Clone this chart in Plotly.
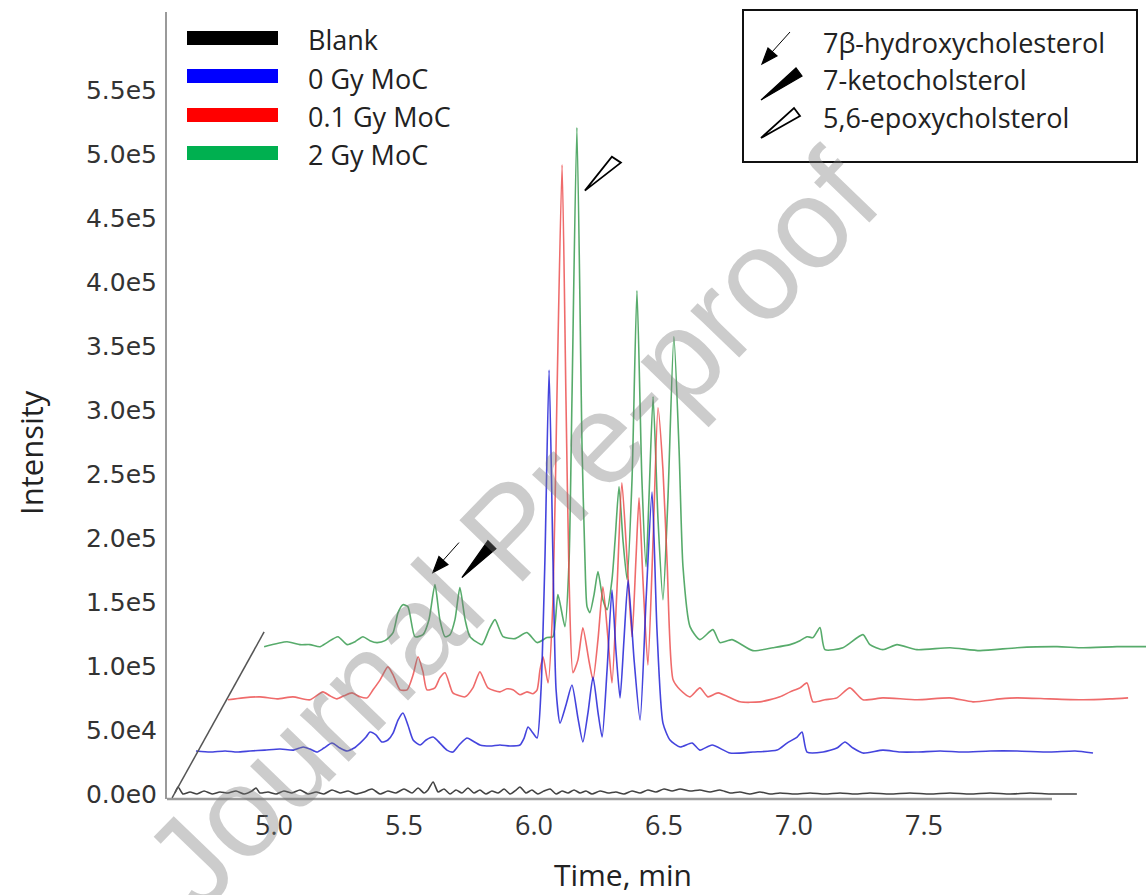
import plotly.graph_objects as go

# ---------------- data ----------------
series_names = ["Blank", "0 Gy MoC", "0.1 Gy MoC", "2 Gy MoC"]
marker_names = ["7β-hydroxycholesterol", "7-ketocholsterol", "5,6-epoxycholsterol"]

y_tick_vals = [0, 50000, 100000, 150000, 200000, 250000, 300000, 350000, 400000, 450000, 500000, 550000]
y_tick_text = ["0.0e0", "5.0e4", "1.0e5", "1.5e5", "2.0e5", "2.5e5", "3.0e5", "3.5e5", "4.0e5", "4.5e5", "5.0e5", "5.5e5"]
x_tick_vals = [5.0, 5.5, 6.0, 6.5, 7.0, 7.5]
x_tick_text = ["5.0", "5.5", "6.0", "6.5", "7.0", "7.5"]

# waterfall offsets of each chromatogram (time shift in min, intensity shift)
x_shift = [0.0, 0.075, 0.20, 0.34]
y_shift = [0, 32000, 72000, 112000]

blank_time = [4.619, 4.631, 4.650, 4.677, 4.704, 4.731, 4.762, 4.792, 4.823, 4.854,
              4.885, 4.915, 4.931, 4.946, 4.977, 5.008, 5.038, 5.069, 5.100, 5.131,
              5.162, 5.192, 5.223, 5.254, 5.285, 5.315, 5.346, 5.377, 5.408, 5.438,
              5.469, 5.500, 5.531, 5.554, 5.577, 5.592, 5.612, 5.631, 5.654, 5.677,
              5.700, 5.723, 5.746, 5.769, 5.792, 5.815, 5.838, 5.862, 5.885, 5.908,
              5.931, 5.946, 5.969, 5.992, 6.015, 6.038, 6.062, 6.085, 6.108, 6.131,
              6.154, 6.177, 6.200, 6.223, 6.254, 6.285, 6.315, 6.346, 6.377, 6.408,
              6.438, 6.469, 6.500, 6.531, 6.562, 6.600, 6.638, 6.677, 6.715, 6.754,
              6.792, 6.831, 6.869, 6.908, 6.946, 7.004, 7.062, 7.119, 7.177, 7.235,
              7.292, 7.369, 7.446, 7.523, 7.600, 7.677, 7.754, 7.831, 7.908, 7.985,
              8.088]
blank_int = [800, 5500, 0, 1600, 0, 2300, 0, 1600, 800, 2300,
             0, 2300, 4700, 800, 1600, 0, 2300, 800, 3100, 0,
             1600, 0, 3100, 800, 2300, 0, 1600, 3900, 0, 2300,
             800, 3900, 800, 4700, 800, 3100, 9400, 1600, 3900, 0,
             3100, 800, 4700, 800, 3100, 0, 2300, 800, 3900, 0,
             3100, 5500, 800, 3100, 0, 2300, 3900, 0, 2300, 800,
             3100, 800, 2300, 0, 2300, 800, 1600, 0, 2300, 800,
             3100, 1600, 3900, 2300, 3900, 2300, 3100, 1600, 3100, 800,
             1600, 0, 1600, 0, 800, 0, 800, 0, 800, 0,
             800, 0, 800, 0, 800, 0, 800, 0, 800, 0,
             0]

moc0_time = [4.625, 4.679, 4.737, 4.783, 4.833, 4.890, 4.948, 5.000, 5.037, 5.063,
             5.090, 5.117, 5.148, 5.179, 5.206, 5.233, 5.256, 5.279, 5.294, 5.317,
             5.340, 5.363, 5.383, 5.402, 5.421, 5.440, 5.460, 5.487, 5.510, 5.537,
             5.563, 5.590, 5.613, 5.637, 5.667, 5.690, 5.717, 5.756, 5.794, 5.833,
             5.871, 5.887, 5.902, 5.921, 5.937, 5.952, 5.967, 5.983, 5.998, 6.010,
             6.025, 6.048, 6.071, 6.094, 6.113, 6.133, 6.152, 6.171, 6.187, 6.206,
             6.225, 6.240, 6.256, 6.271, 6.287, 6.310, 6.333, 6.356, 6.379, 6.398,
             6.421, 6.448, 6.487, 6.533, 6.563, 6.610, 6.679, 6.767, 6.860, 6.898,
             6.937, 6.956, 6.975, 7.037, 7.090, 7.121, 7.152, 7.190, 7.267, 7.333,
             7.398, 7.487, 7.575, 7.679, 7.783, 7.910, 8.006, 8.075]
moc0_int = [1600, 800, 1600, 800, 1600, 2300, 3100, 2300, 4700, 3100,
            800, 3900, 7800, 3900, 1600, 3900, 7800, 12500, 16400, 14100,
            8600, 10200, 15600, 25800, 31300, 21900, 10200, 6300, 10200, 12500,
            7800, 2300, 800, 6300, 11700, 9400, 6300, 5500, 6300, 5500,
            6300, 11700, 20300, 15600, 11700, 49200, 150800, 299200, 150800, 49200,
            23400, 37500, 53100, 27300, 8600, 32000, 59400, 32000, 12500, 64800,
            127300, 80500, 43000, 88300, 135200, 72700, 25800, 119500, 203900, 96100,
            23400, 10200, 4700, 7800, 2300, 6300, 0, 800, 2300, 7800,
            12500, 16400, 800, 800, 3900, 8600, 3900, 0, 2300, 800,
            800, 1600, 800, 1600, 1600, 800, 1600, 0]

moc01_time = [4.623, 4.681, 4.746, 4.812, 4.873, 4.938, 4.988, 5.015, 5.042, 5.069,
              5.100, 5.131, 5.158, 5.181, 5.208, 5.238, 5.258, 5.285, 5.312, 5.335,
              5.354, 5.373, 5.388, 5.419, 5.438, 5.458, 5.477, 5.488, 5.535, 5.565,
              5.592, 5.623, 5.669, 5.696, 5.719, 5.746, 5.773, 5.796, 5.812, 5.823,
              5.835, 5.854, 5.873, 5.888, 5.908, 5.923, 5.935, 5.950, 5.969, 5.988,
              6.012, 6.027, 6.046, 6.065, 6.085, 6.100, 6.119, 6.138, 6.158, 6.177,
              6.192, 6.204, 6.219, 6.238, 6.258, 6.277, 6.296, 6.312, 6.335, 6.362,
              6.400, 6.438, 6.469, 6.508, 6.592, 6.669, 6.746, 6.785, 6.823, 6.850,
              6.873, 6.919, 6.965, 7.015, 7.065, 7.142, 7.273, 7.400, 7.488, 7.592,
              7.658, 7.785, 7.912, 8.015, 8.085]
moc01_int = [1600, 3100, 3900, 2300, 3900, 1600, 7800, 4700, 2300, 4700,
             7000, 3900, 3100, 9400, 17200, 27300, 21100, 9400, 9400, 21100,
             35200, 23400, 9400, 10900, 18800, 22700, 12500, 7000, 3900, 10900,
             23400, 10900, 7800, 10200, 9400, 5500, 7800, 6300, 9400, 25000,
             35200, 14800, 79700, 235900, 419500, 235900, 95300, 22700, 32800, 57800,
             31300, 17200, 48400, 89800, 48400, 14800, 87500, 171100, 110900, 50800,
             110900, 159400, 95300, 28900, 126600, 229700, 181300, 108600, 17200, 9400,
             3900, 10900, 3900, 7000, 0, 0, 3900, 7800, 10900, 14800,
             0, 1600, 3100, 10900, 1600, 3100, 1600, 3100, 0, 2300,
             3100, 2300, 1600, 2300, 3100]

moc2_time = [4.622, 4.710, 4.760, 4.798, 4.837, 4.864, 4.906, 4.941, 4.972, 5.002,
             5.029, 5.056, 5.087, 5.118, 5.137, 5.156, 5.175, 5.202, 5.233, 5.256,
             5.279, 5.298, 5.318, 5.337, 5.356, 5.375, 5.395, 5.414, 5.460, 5.487,
             5.510, 5.541, 5.587, 5.633, 5.672, 5.710, 5.733, 5.752, 5.779, 5.795,
             5.806, 5.825, 5.845, 5.856, 5.864, 5.875, 5.891, 5.906, 5.925, 5.941,
             5.960, 5.972, 5.987, 6.002, 6.018, 6.037, 6.056, 6.075, 6.091, 6.102,
             6.118, 6.137, 6.156, 6.175, 6.198, 6.218, 6.233, 6.260, 6.298, 6.348,
             6.375, 6.422, 6.502, 6.579, 6.645, 6.683, 6.710, 6.733, 6.760, 6.779,
             6.848, 6.925, 6.952, 7.002, 7.056, 7.133, 7.260, 7.375, 7.518, 7.672,
             7.772, 7.902, 8.014, 8.087]
moc2_int = [3100, 7000, 4700, 4700, 3100, 6300, 10900, 4700, 7000, 10900,
            7800, 6300, 7800, 14100, 29700, 35900, 34400, 10900, 12500, 24200,
            51600, 24200, 10900, 12500, 24200, 49200, 24200, 10900, 4700, 16400,
            24200, 10900, 9400, 14100, 6300, 10200, 10900, 43800, 18800, 71100,
            196100, 408600, 157000, 71100, 34400, 29700, 43800, 61700, 39800, 32000,
            55500, 86700, 128100, 86700, 55500, 133600, 281300, 133600, 65600, 118000,
            198400, 102300, 39800, 118000, 245300, 157000, 65600, 18800, 8600, 16400,
            6300, 8600, 0, 2300, 4700, 7800, 10900, 10200, 18000, 800,
            2300, 12500, 4700, 800, 4700, 800, 2300, 0, 2300, 3100,
            2300, 3100, 3100, 3100]

# ---------------- styling / layout ----------------
W, H = 1146, 895
ML, MR, MT, MB = 167, 0, 12, 96
PW, PH = W - ML - MR, H - MT - MB


def fx(p):
    return (p - ML) / PW


def fy(p):
    return (H - MB - p) / PH


line_colors = ["rgba(45,45,45,0.9)", "rgba(35,35,215,0.85)", "rgba(235,70,70,0.8)", "rgba(45,150,70,0.8)"]
legend_colors = ["#000000", "#0000ff", "#ff0000", "#00b050"]

times = [blank_time, moc0_time, moc01_time, moc2_time]
ints = [blank_int, moc0_int, moc01_int, moc2_int]

fig = go.Figure()
for i in [3, 2, 1, 0]:
    fig.add_trace(go.Scatter(
        x=[t + x_shift[i] for t in times[i]],
        y=[v + y_shift[i] for v in ints[i]],
        mode="lines", name=series_names[i], showlegend=False, hoverinfo="skip",
        line=dict(color=line_colors[i], width=1.6, shape="spline", smoothing=0.6)))


def peak(ti, vi, lo, hi, k):
    best = max((j for j in range(len(ti)) if lo <= ti[j] <= hi), key=lambda j: vi[j])
    return ti[best] + x_shift[k], vi[best] + y_shift[k]


shapes = []
# x axis base line and depth (sample) axis
shapes.append(dict(type="line", xref="paper", yref="paper", x0=0, x1=fx(1052), y0=0, y1=0,
                   line=dict(color="#9a9a9a", width=2.5)))
shapes.append(dict(type="line", xref="x", yref="y", x0=4.608, y0=-3100, x1=4.962, y1=126600,
                   line=dict(color="#555555", width=1.5)))

# custom legend (series)
bar_y = [38, 76, 115, 153]
for i, name in enumerate(series_names):
    shapes.append(dict(type="line", xref="paper", yref="paper", x0=fx(187), x1=fx(278),
                       y0=fy(bar_y[i]), y1=fy(bar_y[i]), line=dict(color=legend_colors[i], width=14)))

# marker legend box
shapes.append(dict(type="rect", xref="paper", yref="paper", x0=fx(743), x1=fx(1137), y0=fy(162), y1=fy(10),
                   line=dict(color="#111111", width=2), fillcolor="rgba(0,0,0,0)"))


def icon(xref, yref, ax, ay, path, fill, width=1.2):
    return dict(type="path", xref=xref, yref=yref, xsizemode="pixel", ysizemode="pixel",
                xanchor=ax, yanchor=ay, path=path, fillcolor=fill,
                line=dict(color="#000000", width=width))


# legend icons (anchored at their tips)
shapes.append(icon("paper", "paper", fx(762), fy(64), "M 0,0 L 15,8 L 6,16 Z", "#000000"))
shapes.append(icon("paper", "paper", fx(762), fy(64), "M 10,12 L 28,32", "#000000", 1))
shapes.append(icon("paper", "paper", fx(761), fy(100), "M 0,0 L 41,24 L 35,32 Z", "#000000"))
shapes.append(icon("paper", "paper", fx(761), fy(138), "M 0,0 L 39,22 L 33,30 Z", "#ffffff", 1.8))

# icons on chart, anchored at the 2 Gy peaks
p1 = peak(moc2_time, moc2_int, 5.25, 5.30, 3)
p2 = peak(moc2_time, moc2_int, 5.35, 5.40, 3)
p3 = peak(moc2_time, moc2_int, 5.80, 5.85, 3)
shapes.append(icon("x", "y", p1[0], p1[1], "M -2,12 L 13,20 L 4,28 Z", "#000000"))
shapes.append(icon("x", "y", p1[0], p1[1], "M 8,24 L 24,42", "#000000", 1))
shapes.append(icon("x", "y", p2[0], p2[1], "M 2,10 L 36,39 L 28,47 Z", "#000000"))
shapes.append(icon("x", "y", p3[0], p3[1], "M 8,-63 L 35,-29 L 44,-35 Z", "#ffffff", 1.8))

annotations = []
txt_font = dict(family="Open Sans", size=27, color="#222222")
text_y = [40, 78, 116, 155]
for i, name in enumerate(series_names):
    annotations.append(dict(text=name, xref="paper", yref="paper", x=fx(306), y=fy(text_y[i]),
                            xanchor="left", yanchor="middle", showarrow=False, font=txt_font))
mk_y = [42, 80, 118]
for i, name in enumerate(marker_names):
    annotations.append(dict(text=name, xref="paper", yref="paper", x=fx(821), y=fy(mk_y[i]),
                            xanchor="left", yanchor="middle", showarrow=False, font=txt_font))

annotations.append(dict(text="Intensity", xref="paper", yref="paper", x=fx(31), y=fy(453), textangle=-90,
                        xanchor="center", yanchor="middle", showarrow=False,
                        font=dict(family="Open Sans", size=31, color="#222222")))
annotations.append(dict(text="Time, min", xref="paper", yref="paper", x=fx(623), y=fy(874),
                        xanchor="center", yanchor="middle", showarrow=False,
                        font=dict(family="Open Sans", size=30, color="#222222")))
# watermark
annotations.append(dict(text="Journal Pre-proof", xref="paper", yref="paper", x=fx(510), y=fy(530),
                        textangle=-46, xanchor="center", yanchor="middle", showarrow=False,
                        font=dict(family="Liberation Sans", size=128, color="rgba(120,120,120,0.38)")))

fig.update_layout(
    width=W, height=H, template="none", showlegend=False,
    margin=dict(l=ML, r=MR, t=MT, b=MB),
    plot_bgcolor="white", paper_bgcolor="white",
    shapes=shapes, annotations=annotations,
)
fig.update_xaxes(range=[5 + (ML - 274) / 260, 5 + (W - MR - 274) / 260],
                 tickvals=x_tick_vals, ticktext=x_tick_text, showgrid=False, zeroline=False,
                 showline=False, ticks="", ticklabelstandoff=8, automargin=False,
                 tickfont=dict(family="Open Sans", size=27, color="#333333"))
fig.update_yaxes(range=[(794 - (H - MB)) * 781.25, (794 - MT) * 781.25],
                 tickvals=y_tick_vals, ticktext=y_tick_text, showgrid=False, zeroline=False,
                 showline=True, linecolor="#9a9a9a", linewidth=2, ticks="", ticklabelstandoff=3,
                 automargin=False, tickfont=dict(family="DejaVu Sans", size=25, color="#333333"))

fig.write_html("out.html", config={"displayModeBar": False},
               post_script="document.body.style.margin='0px';")
